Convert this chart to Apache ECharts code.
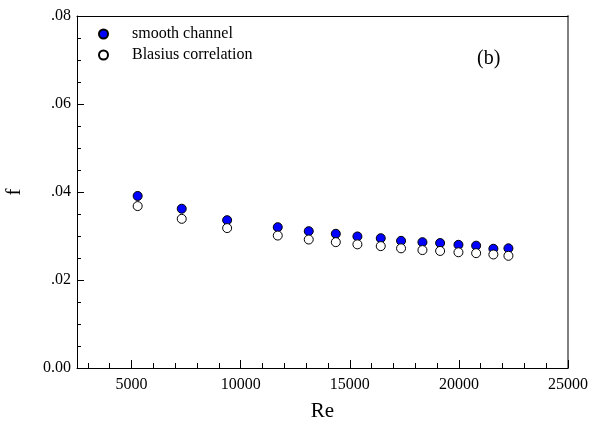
<!DOCTYPE html>
<html>
<head>
<meta charset="utf-8">
<script src="https://cdn.jsdelivr.net/npm/echarts@6/dist/echarts.min.js"></script>
<style>html,body{margin:0;padding:0;background:#fff}#c{width:589px;height:430px}</style>
</head>
<body>
<div id="c"></div>
<script>
const reValues = [5280, 7300, 9380, 11700, 13120, 14360, 15350, 16420, 17350, 18330, 19140, 19980, 20790, 21580, 22270];
const fSmooth  = [0.0391, 0.0362, 0.0336, 0.0320, 0.0311, 0.0305, 0.0299, 0.0295, 0.0289, 0.0286, 0.0284, 0.0280, 0.0278, 0.0271, 0.0272];
const fBlasius = [0.0368, 0.0339, 0.0318, 0.0301, 0.0292, 0.0286, 0.0281, 0.0277, 0.0272, 0.0268, 0.0266, 0.0263, 0.0261, 0.0258, 0.0255];
const seriesNames = ['smooth channel', 'Blasius correlation'];
const xMajorTicks = [5000, 10000, 15000, 20000, 25000];
const xMinorTicks = [3000, 4000, 6000, 7000, 8000, 9000, 11000, 12000, 13000, 14000, 16000, 17000, 18000, 19000, 21000, 22000, 23000, 24000];
const yTickLabels = ['0.00', '.02', '.04', '.06', '.08'];
const panelLabel = '(b)';

const font = 'Liberation Serif';
const chart = echarts.init(document.getElementById('c'));
chart.setOption({
  animation: false,
  backgroundColor: '#fff',
  textStyle: { fontFamily: font },
  title: {
    text: panelLabel, left: 472, top: 44,
    textStyle: { fontFamily: font, fontSize: 20, fontWeight: 'normal', color: '#000' }
  },
  legend: {
    orient: 'vertical', left: 98, top: 26, padding: 0,
    itemWidth: 9, itemHeight: 9, itemGap: 5,
    textStyle: { fontFamily: font, fontSize: 16, color: '#000', lineHeight: 16, padding: [0, 0, 0, 19] },
    data: seriesNames
  },
  grid: { left: 77, right: 21, top: 16, bottom: 62, containLabel: false, outerBoundsMode: 'none' },
  xAxis: [{
    type: 'value', min: 2500, max: 25000, interval: 2500,
    name: 'Re', nameLocation: 'middle', nameGap: 33,
    nameTextStyle: { fontFamily: font, fontSize: 21, color: '#000' },
    axisLine: { show: true, onZero: false, lineStyle: { color: '#000', width: 1 } },
    axisTick: { show: true, inside: true, length: 8, customValues: xMajorTicks, lineStyle: { color: '#000' } },
    axisLabel: { show: true, customValues: xMajorTicks, margin: 9, fontFamily: font, fontSize: 16, color: '#000',
      formatter: function (v) { return String(v); } },
    splitLine: { show: false }
  }, {
    type: 'value', min: 2500, max: 25000, interval: 2500, position: 'bottom',
    axisLine: { show: false, onZero: false },
    axisTick: { show: true, inside: true, length: 5, customValues: xMinorTicks, lineStyle: { color: '#000' } },
    axisLabel: { show: false },
    splitLine: { show: false }
  }, {
    type: 'value', min: 2500, max: 25000, position: 'top',
    axisLine: { show: true, onZero: false, lineStyle: { color: '#000', width: 1 } },
    axisTick: { show: false }, axisLabel: { show: false }, splitLine: { show: false }
  }],
  yAxis: [{
    type: 'value', min: 0, max: 0.08, interval: 0.02,
    name: 'f', nameLocation: 'middle', nameGap: 52,
    nameTextStyle: { fontFamily: font, fontSize: 21, color: '#000' },
    axisLine: { show: true, onZero: false, lineStyle: { color: '#000', width: 1 } },
    axisTick: { show: true, inside: true, length: 7, lineStyle: { color: '#000' } },
    minorTick: { show: true, splitNumber: 4, length: 4, lineStyle: { color: '#000' } },
    axisLabel: {
      margin: 6, fontFamily: font, fontSize: 16, color: '#000',
      formatter: function (v) { return yTickLabels[Math.round(v / 0.02)]; }
    },
    splitLine: { show: false }, minorSplitLine: { show: false }
  }, {
    type: 'value', min: 0, max: 0.08, position: 'right',
    axisLine: { show: true, onZero: false, lineStyle: { color: '#808080', width: 2 } },
    axisTick: { show: false }, axisLabel: { show: false }, splitLine: { show: false }
  }],
  series: [{
    name: seriesNames[0], type: 'scatter', symbol: 'circle', symbolSize: 9,
    itemStyle: { color: '#0000ff', borderColor: '#000', borderWidth: 1, opacity: 1 },
    data: reValues.map((x, i) => [x, fSmooth[i]])
  }, {
    name: seriesNames[1], type: 'scatter', symbol: 'circle', symbolSize: 9,
    itemStyle: { color: '#fff', borderColor: '#000', borderWidth: 1, opacity: 1 },
    data: reValues.map((x, i) => [x, fBlasius[i]])
  }]
});
</script>
</body>
</html>
